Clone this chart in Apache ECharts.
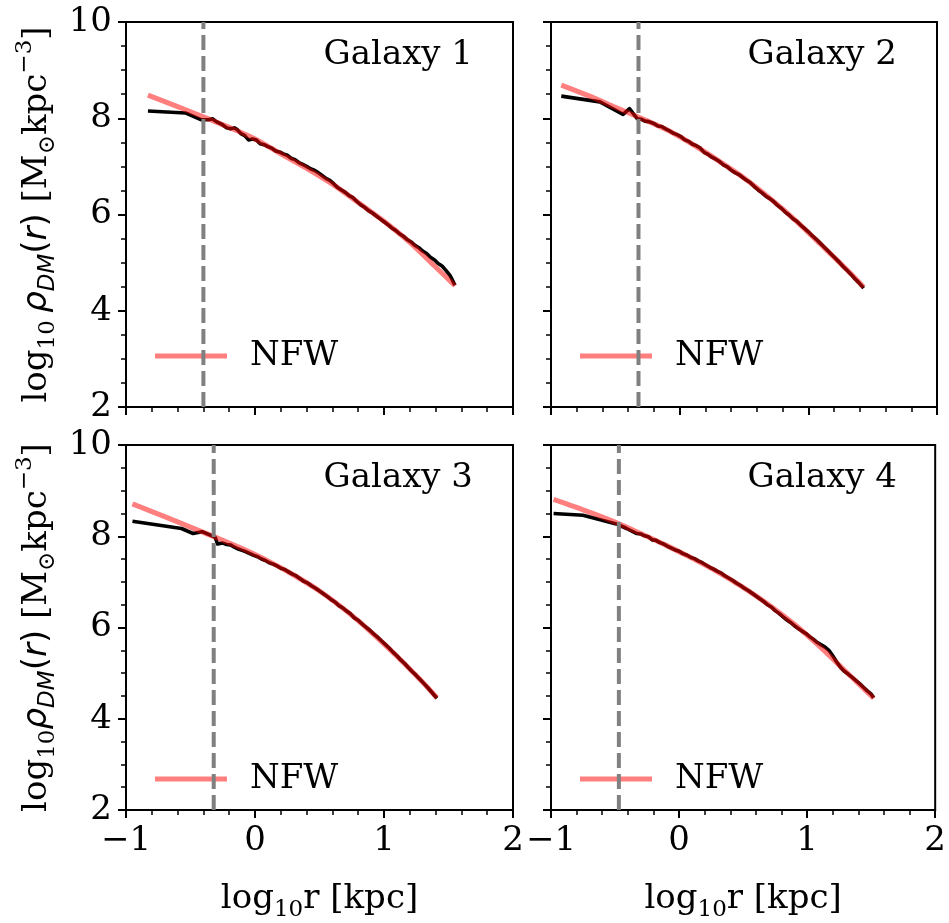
<!DOCTYPE html>
<html>
<head>
<meta charset="utf-8">
<script src="https://cdn.jsdelivr.net/npm/echarts@6/dist/echarts.min.js"></script>
<style>
  html, body { margin: 0; padding: 0; background: #fff; }
  #chart { width: 949px; height: 923px; }
</style>
</head>
<body>
<div id="chart"></div>
<script>
// Dark-matter density profiles of four simulated galaxies with NFW fits.
const galaxyNames = ['Galaxy 1', 'Galaxy 2', 'Galaxy 3', 'Galaxy 4'];

// Resolution limit (log10 r) for each galaxy, shown as a dashed line.
const resolutionLimit = [-0.40, -0.32, -0.32, -0.47];

// Simulated profiles: [log10 r, log10 rho]
const profile1 = [[-0.83,8.15],[-0.54,8.11],[-0.42,7.97],[-0.36,7.97],[-0.33,7.99],[-0.30,7.93],[-0.26,7.88],[-0.22,7.80],[-0.19,7.78],[-0.16,7.80],[-0.14,7.77],[-0.11,7.68],[-0.08,7.64],[-0.05,7.55],[-0.02,7.57],[0.01,7.55],[0.04,7.47],[0.07,7.45],[0.10,7.41],[0.13,7.38],[0.16,7.32],[0.19,7.30],[0.22,7.26],[0.25,7.23],[0.28,7.17],[0.31,7.14],[0.34,7.08],[0.37,7.04],[0.40,7.00],[0.43,6.95],[0.46,6.92],[0.49,6.87],[0.52,6.81],[0.55,6.75],[0.58,6.71],[0.61,6.64],[0.64,6.56],[0.67,6.51],[0.70,6.46],[0.73,6.39],[0.76,6.35],[0.79,6.27],[0.82,6.20],[0.85,6.15],[0.88,6.08],[0.91,6.03],[0.94,5.97],[0.97,5.91],[1.00,5.85],[1.03,5.79],[1.06,5.72],[1.09,5.67],[1.12,5.60],[1.15,5.55],[1.18,5.48],[1.21,5.43],[1.24,5.36],[1.27,5.31],[1.30,5.24],[1.33,5.19],[1.36,5.11],[1.39,5.06],[1.42,4.98],[1.45,4.93],[1.48,4.84],[1.51,4.74],[1.53,4.64],[1.55,4.53]];
const profile2 = [[-0.92,8.46],[-0.62,8.34],[-0.44,8.08],[-0.39,8.20],[-0.33,7.99],[-0.30,7.98],[-0.27,7.94],[-0.24,7.93],[-0.20,7.89],[-0.17,7.84],[-0.14,7.83],[-0.11,7.78],[-0.08,7.74],[-0.05,7.69],[-0.02,7.66],[0.01,7.62],[0.04,7.55],[0.07,7.52],[0.10,7.46],[0.13,7.43],[0.16,7.38],[0.19,7.29],[0.22,7.25],[0.25,7.19],[0.28,7.15],[0.31,7.10],[0.34,7.03],[0.37,6.99],[0.40,6.92],[0.43,6.87],[0.46,6.83],[0.49,6.77],[0.52,6.71],[0.55,6.66],[0.58,6.58],[0.61,6.51],[0.64,6.45],[0.67,6.38],[0.70,6.33],[0.73,6.27],[0.76,6.19],[0.79,6.13],[0.82,6.05],[0.85,5.99],[0.88,5.91],[0.91,5.86],[0.94,5.78],[0.97,5.71],[1.00,5.64],[1.03,5.56],[1.06,5.49],[1.09,5.41],[1.12,5.33],[1.15,5.25],[1.18,5.17],[1.21,5.09],[1.24,5.01],[1.27,4.92],[1.30,4.84],[1.33,4.76],[1.36,4.67],[1.39,4.59],[1.43,4.47]];
const profile3 = [[-0.95,8.33],[-0.57,8.17],[-0.48,8.06],[-0.41,8.10],[-0.31,7.98],[-0.29,7.83],[-0.25,7.85],[-0.22,7.82],[-0.19,7.81],[-0.16,7.76],[-0.13,7.72],[-0.10,7.69],[-0.07,7.66],[-0.04,7.62],[-0.01,7.58],[0.02,7.55],[0.05,7.50],[0.08,7.47],[0.11,7.42],[0.14,7.39],[0.17,7.35],[0.20,7.30],[0.23,7.27],[0.26,7.22],[0.29,7.17],[0.32,7.13],[0.35,7.07],[0.38,7.01],[0.41,6.97],[0.44,6.91],[0.47,6.86],[0.50,6.80],[0.53,6.74],[0.56,6.68],[0.59,6.61],[0.62,6.56],[0.65,6.48],[0.68,6.43],[0.71,6.36],[0.74,6.30],[0.77,6.21],[0.80,6.16],[0.83,6.08],[0.86,6.01],[0.89,5.94],[0.92,5.86],[0.95,5.79],[0.98,5.71],[1.01,5.63],[1.04,5.55],[1.07,5.46],[1.10,5.38],[1.13,5.29],[1.16,5.21],[1.19,5.12],[1.22,5.03],[1.25,4.95],[1.28,4.86],[1.31,4.77],[1.34,4.68],[1.37,4.58],[1.41,4.45]];
const profile4 = [[-0.98,8.50],[-0.75,8.46],[-0.49,8.27],[-0.41,8.17],[-0.33,8.06],[-0.30,8.05],[-0.27,8.01],[-0.24,7.99],[-0.21,7.92],[-0.18,7.91],[-0.15,7.86],[-0.12,7.83],[-0.09,7.78],[-0.06,7.74],[-0.03,7.70],[0.00,7.67],[0.03,7.62],[0.06,7.59],[0.09,7.54],[0.12,7.51],[0.15,7.46],[0.18,7.42],[0.21,7.37],[0.24,7.32],[0.27,7.28],[0.30,7.23],[0.33,7.19],[0.36,7.13],[0.39,7.08],[0.42,7.03],[0.45,6.97],[0.48,6.92],[0.51,6.86],[0.54,6.81],[0.57,6.75],[0.60,6.69],[0.63,6.63],[0.66,6.57],[0.69,6.50],[0.72,6.45],[0.75,6.37],[0.78,6.31],[0.81,6.24],[0.84,6.17],[0.87,6.11],[0.90,6.04],[0.93,5.98],[0.96,5.92],[0.99,5.87],[1.02,5.80],[1.05,5.74],[1.08,5.67],[1.11,5.62],[1.14,5.57],[1.17,5.50],[1.20,5.38],[1.23,5.25],[1.26,5.13],[1.29,5.04],[1.32,4.98],[1.35,4.91],[1.38,4.84],[1.41,4.77],[1.44,4.69],[1.47,4.61],[1.50,4.54],[1.52,4.46]];

// NFW fits: [log10 r, log10 rho]
const nfw1 = [[-0.83,8.48],[-0.60,8.24],[-0.40,8.03],[-0.20,7.81],[0.00,7.57],[0.20,7.26],[0.40,6.96],[0.60,6.63],[0.80,6.25],[1.00,5.86],[1.20,5.42],[1.40,4.91],[1.55,4.52]];
const nfw2 = [[-0.92,8.69],[-0.70,8.46],[-0.50,8.23],[-0.30,8.00],[-0.10,7.76],[0.10,7.46],[0.30,7.12],[0.50,6.76],[0.70,6.34],[0.90,5.88],[1.10,5.37],[1.30,4.85],[1.43,4.49]];
const nfw3 = [[-0.95,8.71],[-0.70,8.43],[-0.50,8.20],[-0.30,7.97],[-0.10,7.73],[0.10,7.46],[0.30,7.15],[0.50,6.80],[0.70,6.38],[0.90,5.90],[1.10,5.37],[1.30,4.80],[1.41,4.46]];
const nfw4 = [[-0.98,8.81],[-0.70,8.53],[-0.50,8.31],[-0.30,8.06],[-0.10,7.80],[0.10,7.52],[0.30,7.22],[0.50,6.88],[0.70,6.50],[0.90,6.07],[1.10,5.58],[1.30,5.04],[1.52,4.45]];

const profiles = [profile1, profile2, profile3, profile4];
const fits = [nfw1, nfw2, nfw3, nfw4];

const xTicks = { min: -1, max: 2, interval: 1 };
const yTicks = { min: 2, max: 10, interval: 2 };

const SERIF = 'DejaVu Serif';
const SANS = 'DejaVu Sans';
const FS = 34;
const FS_SMALL = 23;

const grids = [
  { left: 126, top: 22, width: 387, height: 385 },
  { left: 551, top: 22, width: 386, height: 385 },
  { left: 126, top: 445, width: 387, height: 384 },
  { left: 551, top: 445, width: 386, height: 384 }
];

const richName = {
  n:   { fontFamily: SERIF, fontSize: FS, lineHeight: 46, color: '#000', verticalAlign: 'middle' },
  sub: { fontFamily: SERIF, fontSize: FS_SMALL, lineHeight: 23, color: '#000', verticalAlign: 'bottom' },
  it:  { fontFamily: SANS, fontStyle: 'italic', fontSize: FS, lineHeight: 46, color: '#000', verticalAlign: 'middle' },
  isub:{ fontFamily: SANS, fontStyle: 'italic', fontSize: FS_SMALL, lineHeight: 23, color: '#000', verticalAlign: 'bottom' },
  p:   { fontFamily: SANS, fontSize: FS, lineHeight: 46, color: '#000', verticalAlign: 'middle' },
  sup: { fontFamily: SERIF, fontSize: FS_SMALL, lineHeight: 23, color: '#000', verticalAlign: 'top' }
};

const yNameTop = '{n|log}{sub|10\u00a0}{it|ρ}{isub|DM}{p|(}{it|r}{p|)}{n|\u00a0[M}{sub|⊙}{n|kpc}{sup|−3}{n|]}';
const yNameBottom = '{n|log}{sub|10}{it|ρ}{isub|DM}{p|(}{it|r}{p|)}{n|\u00a0[M}{sub|⊙}{n|kpc}{sup|−3}{n|]}';
const xName = '{n|log}{sub|10}{n|r\u00a0[kpc]}';

const fmt = v => (v < 0 ? '\u2212' + Math.abs(v) : String(v));

const xAxes = grids.map((g, i) => ({
  type: 'value', gridIndex: i,
  min: xTicks.min, max: xTicks.max, interval: xTicks.interval,
  axisLine: { show: true, onZero: false, lineStyle: { color: '#000', width: 2 } },
  axisTick: { show: true, length: 8, lineStyle: { color: '#000', width: 2 } },
  minorTick: { show: true, splitNumber: 5, length: 5, lineStyle: { color: '#000', width: 1.5 } },
  splitLine: { show: false },
  axisLabel: { show: i >= 2, formatter: fmt, fontFamily: SERIF, fontSize: FS, color: '#000', margin: 14 },
  name: i >= 2 ? xName : '',
  nameLocation: 'middle', nameGap: 66,
  nameTextStyle: { rich: richName }
}));

const yAxes = grids.map((g, i) => ({
  type: 'value', gridIndex: i,
  min: yTicks.min, max: yTicks.max, interval: yTicks.interval,
  axisLine: { show: true, onZero: false, lineStyle: { color: '#000', width: 2 } },
  axisTick: { show: true, length: 8, lineStyle: { color: '#000', width: 2 } },
  minorTick: { show: true, splitNumber: 4, length: 5, lineStyle: { color: '#000', width: 1.5 } },
  splitLine: { show: false },
  axisLabel: { show: i % 2 === 0, formatter: fmt, fontFamily: SERIF, fontSize: FS, color: '#000', margin: 14 },
  name: i === 0 ? yNameTop : (i === 2 ? yNameBottom : ''),
  nameLocation: 'middle', nameRotate: 90, nameGap: 66,
  nameTextStyle: { rich: richName }
}));

const series = [];
for (let i = 0; i < 4; i++) {
  series.push({
    type: 'line', name: 'data' + (i + 1), xAxisIndex: i, yAxisIndex: i,
    data: profiles[i], showSymbol: false, symbol: 'none', z: 3,
    lineStyle: { color: '#000', width: 3.6, join: 'round' }, silent: true
  });
  series.push({
    type: 'line', name: 'NFW', xAxisIndex: i, yAxisIndex: i,
    data: fits[i], smooth: 0.3, showSymbol: false, symbol: 'none', z: 4,
    lineStyle: { color: '#ff0000', width: 5, opacity: 0.5 },
    itemStyle: { color: 'rgba(255,0,0,0.5)' }, silent: true
  });
  series.push({
    type: 'line', name: 'limit' + (i + 1), xAxisIndex: i, yAxisIndex: i,
    data: [[resolutionLimit[i], yTicks.min], [resolutionLimit[i], yTicks.max]],
    showSymbol: false, symbol: 'none', z: 5,
    lineStyle: { color: '#808080', width: 4, type: [15, 6] }, silent: true
  });
}

const titlePos = [
  { right: 476, top: 38 }, { right: 52, top: 38 },
  { right: 476, top: 461 }, { right: 52, top: 461 }
];
const title = galaxyNames.map((t, i) => Object.assign({
  text: t, padding: 0,
  textStyle: { fontFamily: SERIF, fontSize: FS, fontWeight: 'normal', color: '#000' }
}, titlePos[i]));

const legendPos = [
  { left: 155, top: 339 }, { left: 580, top: 339 },
  { left: 155, top: 762 }, { left: 580, top: 762 }
];
const legend = legendPos.map(p => Object.assign({
  data: [{ name: 'NFW', icon: 'rect', itemStyle: { color: 'rgba(255,0,0,0.5)' } }],
  itemWidth: 72, itemHeight: 5, padding: 0, selectedMode: false,
  textStyle: { fontFamily: SERIF, fontSize: FS, color: '#000', padding: [0, 0, 0, 18] }
}, p));

const chart = echarts.init(document.getElementById('chart'), null, { renderer: 'canvas' });
chart.setOption({
  animation: false,
  backgroundColor: '#fff',
  title, legend,
  grid: grids.map(g => Object.assign({ show: true, borderColor: '#000', borderWidth: 2, backgroundColor: 'transparent', containLabel: false }, g)),
  xAxis: xAxes,
  yAxis: yAxes,
  series
});
</script>
</body>
</html>
